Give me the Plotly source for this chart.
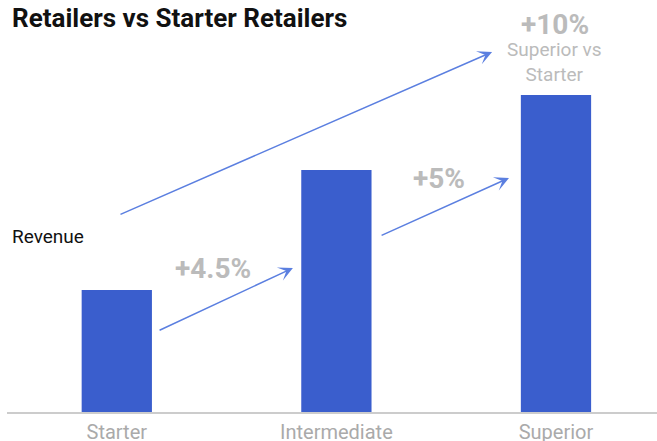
import plotly.graph_objects as go

categories = ["Starter", "Intermediate", "Superior"]
revenue = [122, 242, 317]          # relative revenue (bar heights, arbitrary units)
uplift_labels = ["+4.5%", "+5%", "+10%"]
title_lines = ["Revenue Uplift of Intermediate and Superior", "Retailers vs Starter Retailers"]

BAR = "#3a5ecd"
ARROW = "#5b7fe0"
GREY = "#bbbbbb"
FONT = "Roboto"

xpos = list(range(len(categories)))

fig = go.Figure()
fig.add_trace(go.Bar(
    x=xpos, y=revenue, width=0.32,
    marker=dict(color=BAR, line=dict(width=0)),
    hoverinfo="skip",
))

def arrow(x0, y0, x1, y1):
    return dict(x=x1, y=y1, ax=x0, ay=y0, xref="x", yref="y", axref="x", ayref="y",
                text="", showarrow=True, arrowhead=3, arrowsize=1.6, arrowwidth=1.5,
                arrowcolor=ARROW, standoff=0, startstandoff=0)

annotations = [
    arrow(0.01, 197, 1.709, 360),
    arrow(0.188, 81, 0.802, 144),
    arrow(1.199, 176, 1.786, 234),
    dict(x=0.44, y=144, xref="x", yref="y", text="<b>%s</b>" % uplift_labels[0], showarrow=False,
         font=dict(family=FONT, size=28, color=GREY)),
    dict(x=1.468, y=234, xref="x", yref="y", text="<b>%s</b>" % uplift_labels[1], showarrow=False,
         font=dict(family=FONT, size=28, color=GREY)),
    dict(x=1.995, y=(412 - 24) / 372, xref="x", yref="paper", yanchor="middle",
         text="<b>%s</b>" % uplift_labels[2],
         showarrow=False, font=dict(family=FONT, size=28, color=GREY)),
    dict(x=1.995, y=(412 - 62) / 372, xref="x", yref="paper", yanchor="middle",
         text="Superior vs<br>Starter",
         showarrow=False, font=dict(family=FONT, size=19, color=GREY)),
    dict(x=0.005, y=176, xref="paper", yref="y", xanchor="left", text="Revenue", showarrow=False,
         font=dict(family=FONT, size=19, color="#111111")),
    dict(x=0.005, y=(412 + 16) / 372, xref="paper", yref="paper", xanchor="left", yanchor="middle",
         text="<b>%s</b>" % title_lines[0], showarrow=False,
         font=dict(family=FONT, size=26, color="#111111")),
    dict(x=0.005, y=(412 - 18) / 372, xref="paper", yref="paper", xanchor="left", yanchor="middle",
         text="<b>%s</b>" % title_lines[1], showarrow=False,
         font=dict(family=FONT, size=26, color="#111111")),
]

fig.update_layout(
    width=657, height=441,
    margin=dict(l=7, r=0, t=40, b=29),
    plot_bgcolor="white", paper_bgcolor="white",
    showlegend=False,
    font=dict(family=FONT),
    xaxis=dict(range=[-0.5, 2.46], tickvals=xpos, ticktext=categories,
               showgrid=False, zeroline=False, showline=True, linecolor="#cccccc", linewidth=1.5,
               tickfont=dict(family=FONT, size=20, color="#aaaaaa"), ticks="",
               ticklabelstandoff=1, automargin=False),
    yaxis=dict(range=[0, 372], visible=False, automargin=False),
    annotations=annotations,
)

fig.write_html("out.html")
